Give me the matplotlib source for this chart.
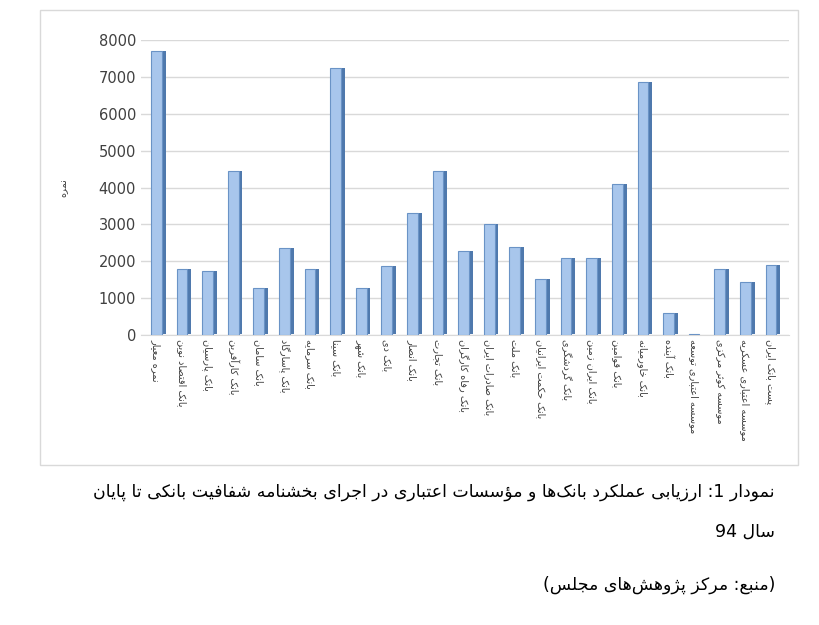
import matplotlib.pyplot as plt
from matplotlib.patches import Rectangle
import numpy as np

# Persian shaping: (isolated, final, initial, medial); 2-tuples are non-joining to the left
FORMS = {
    'ا': (0xFE8D, 0xFE8E), 'آ': (0xFE81, 0xFE82), 'ؤ': (0xFE85, 0xFE86),
    'د': (0xFEA9, 0xFEAA), 'ذ': (0xFEAB, 0xFEAC), 'ر': (0xFEAD, 0xFEAE),
    'ز': (0xFEAF, 0xFEB0), 'ژ': (0xFB8A, 0xFB8B), 'و': (0xFEED, 0xFEEE),
    'ب': (0xFE8F, 0xFE90, 0xFE91, 0xFE92), 'پ': (0xFB56, 0xFB57, 0xFB58, 0xFB59),
    'ت': (0xFE95, 0xFE96, 0xFE97, 0xFE98), 'ث': (0xFE99, 0xFE9A, 0xFE9B, 0xFE9C),
    'ج': (0xFE9D, 0xFE9E, 0xFE9F, 0xFEA0), 'چ': (0xFB7A, 0xFB7B, 0xFB7C, 0xFB7D),
    'ح': (0xFEA1, 0xFEA2, 0xFEA3, 0xFEA4), 'خ': (0xFEA5, 0xFEA6, 0xFEA7, 0xFEA8),
    'س': (0xFEB1, 0xFEB2, 0xFEB3, 0xFEB4), 'ش': (0xFEB5, 0xFEB6, 0xFEB7, 0xFEB8),
    'ص': (0xFEB9, 0xFEBA, 0xFEBB, 0xFEBC), 'ض': (0xFEBD, 0xFEBE, 0xFEBF, 0xFEC0),
    'ط': (0xFEC1, 0xFEC2, 0xFEC3, 0xFEC4), 'ظ': (0xFEC5, 0xFEC6, 0xFEC7, 0xFEC8),
    'ع': (0xFEC9, 0xFECA, 0xFECB, 0xFECC), 'غ': (0xFECD, 0xFECE, 0xFECF, 0xFED0),
    'ف': (0xFED1, 0xFED2, 0xFED3, 0xFED4), 'ق': (0xFED5, 0xFED6, 0xFED7, 0xFED8),
    'ک': (0xFB8E, 0xFB8F, 0xFB90, 0xFB91), 'گ': (0xFB92, 0xFB93, 0xFB94, 0xFB95),
    'ل': (0xFEDD, 0xFEDE, 0xFEDF, 0xFEE0), 'م': (0xFEE1, 0xFEE2, 0xFEE3, 0xFEE4),
    'ن': (0xFEE5, 0xFEE6, 0xFEE7, 0xFEE8), 'ه': (0xFEE9, 0xFEEA, 0xFEEB, 0xFEEC),
    'ی': (0xFBFC, 0xFBFD, 0xFBFE, 0xFBFF),
}
MIRROR = {'(': ')', ')': '('}


def fa(text):
    chars = list(text)
    out = []
    for i, c in enumerate(chars):
        if c not in FORMS:
            if c != '\u200c':
                out.append(MIRROR.get(c, c))
            continue
        f = FORMS[c]
        prev = chars[i - 1] if i > 0 else ''
        nxt = chars[i + 1] if i + 1 < len(chars) else ''
        join_prev = prev in FORMS and len(FORMS[prev]) == 4
        join_next = len(f) == 4 and nxt in FORMS
        if join_prev and join_next:
            code = f[3]
        elif join_prev:
            code = f[1]
        elif join_next:
            code = f[2]
        else:
            code = f[0]
        out.append(chr(code))
    # visual order: reverse, but keep digit runs left-to-right
    s = ''.join(reversed(out))
    res, run = [], ''
    for c in s:
        if c.isdigit():
            run += c
        else:
            res.append(run[::-1]); run = ''
            res.append(c)
    res.append(run[::-1])
    return ''.join(res)


banks = ['نمره معیار', 'بانک اقتصاد نوین', 'بانک پارسیان', 'بانک کارآفرین', 'بانک سامان',
         'بانک پاسارگاد', 'بانک سرمایه', 'بانک سینا', 'بانک شهر', 'بانک دی', 'بانک انصار',
         'بانک تجارت', 'بانک رفاه کارگران', 'بانک صادرات ایران', 'بانک ملت',
         'بانک حکمت ایرانیان', 'بانک گردشگری', 'بانک ایران زمین', 'بانک قوامین',
         'بانک خاورمیانه', 'بانک آینده', 'موسسه اعتباری توسعه', 'موسسه کوثر مرکزی',
         'موسسه اعتباری عسکریه', 'پست بانک ایران']
scores = [7700, 1780, 1730, 4450, 1280, 2370, 1780, 7230, 1280, 1880, 3320, 4450, 2280,
          3020, 2400, 1530, 2100, 2100, 4090, 6870, 600, 30, 1800, 1430, 1900]
yticks = [0, 1000, 2000, 3000, 4000, 5000, 6000, 7000, 8000]

plt.rcParams['font.family'] = ['DejaVu Sans']
fig = plt.figure(figsize=(8.2, 6.25), dpi=100)
fig.patches.append(Rectangle((40 / 820, 1 - 465 / 625), 758 / 820, 455 / 625,
                             transform=fig.transFigure, fill=False, ec='#d9d9d9', lw=1))

ax = fig.add_axes([0.172, 0.464, 0.79, 0.472])
x = np.arange(len(banks))
w = 0.42
# side face (pseudo 3D) then front face
ax.bar(x + 0.15, np.array(scores) - 40, w, bottom=40, color='#4f79ad', zorder=2)
ax.bar(x, scores, w, color='#a8c6ec', edgecolor='#6a93c6', linewidth=0.8, zorder=3)
ax.set_xlim(-0.6, len(banks) - 0.3)
ax.set_ylim(0, 8000)
ax.set_yticks(yticks)
ax.tick_params(axis='y', length=0, labelsize=10.5, labelcolor='#404040')
ax.tick_params(axis='x', length=0, pad=3)
ax.set_xticks(x)
ax.set_xticklabels([fa(b) for b in banks], rotation=-90, fontsize=7, color='#404040', va='top')
ax.grid(axis='y', color='#d9d9d9', lw=1)
ax.set_axisbelow(True)
for s in ['top', 'right', 'left']:
    ax.spines[s].set_visible(False)
ax.spines['bottom'].set_color('#d9d9d9')
ax.set_ylabel(fa('نمره'), fontsize=7, color='#404040', labelpad=22)

fig.text(0.945, 1 - 497 / 625,
         fa('نمودار 1: ارزیابی عملکرد بانک‌ها و مؤسسات اعتباری در اجرای بخشنامه شفافیت بانکی تا پایان'),
         ha='right', fontsize=12.5)
fig.text(0.945, 1 - 537 / 625, fa('سال 94'), ha='right', fontsize=12.5)
fig.text(0.945, 1 - 590 / 625, fa('(منبع: مرکز پژوهش‌های مجلس)'), ha='right', fontsize=12.5)

fig.savefig('out.png', dpi=100)
